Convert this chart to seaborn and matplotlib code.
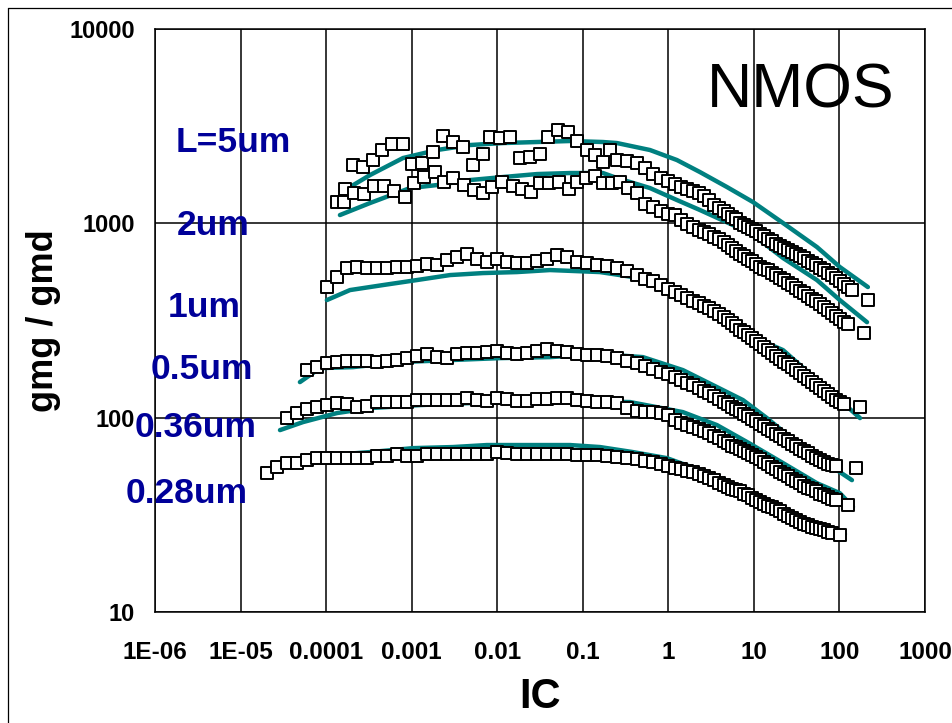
import matplotlib
matplotlib.use("Agg")
import matplotlib.pyplot as plt
import seaborn as sns
from matplotlib.ticker import FixedLocator, FixedFormatter, LogLocator, NullFormatter
from matplotlib.lines import Line2D

# ---------------- data ----------------
IC_GRID = [2.04e-5, 2.67e-5, 3.49e-5, 4.57e-5, 5.98e-5, 7.82e-5, 1.02e-4, 1.34e-4, 1.75e-4, 2.30e-4,
           3.00e-4, 3.94e-4, 5.15e-4, 6.73e-4, 8.81e-4, 1.15e-3, 1.51e-3, 1.98e-3, 2.59e-3, 3.39e-3,
           4.43e-3, 5.80e-3, 7.59e-3, 9.93e-3, 1.30e-2, 1.70e-2, 2.23e-2, 2.92e-2, 3.82e-2, 4.99e-2,
           6.54e-2, 8.56e-2, 0.112, 0.147, 0.192, 0.251, 0.329, 0.430, 0.533, 0.661,
           0.820, 0.991, 1.20, 1.41, 1.65, 1.94, 2.28, 2.61, 2.99, 3.41,
           3.91, 4.47, 4.98, 5.54, 6.17, 6.87, 7.66, 8.53, 9.49, 10.6,
           11.8, 13.1, 14.6, 16.3, 18.1, 20.2, 22.5, 25.0, 27.9, 31.0,
           34.6, 38.5, 42.9, 47.7, 53.1, 59.2, 65.9, 73.4, 81.7, 91.0,
           101, 113, 126, 140]

# measured points (open squares)
ic_028 = IC_GRID[0:79] + [101]
gm_028 = [51.8, 55.7, 58.3, 58.3, 60.5, 61.9, 61.9, 61.9, 61.9, 61.9,
          61.9, 63.4, 63.4, 65.0, 63.4, 63.4, 65.0, 65.0, 65.0, 65.0,
          65.0, 65.0, 65.0, 66.5, 65.7, 65.0, 65.0, 65.0, 65.0, 65.0,
          65.0, 64.2, 64.2, 64.2, 63.4, 62.7, 61.9, 61.2, 60.1, 59.4,
          58.0, 56.7, 55.4, 54.3, 53.4, 52.5, 51.2, 50.0, 49.2, 47.7,
          46.3, 45.0, 44.0, 43.2, 42.4, 41.7, 40.7, 39.8, 38.6, 37.7,
          37.0, 36.1, 35.3, 34.5, 33.7, 32.9, 32.1, 31.1, 30.4, 29.7,
          29.2, 28.5, 28.0, 27.5, 27.0, 26.7, 26.4, 25.9, 25.6,
          25.0]

ic_036 = IC_GRID[2:80] + [126]
gm_036 = [99.5, 105.6, 110.7, 113.3, 116.1, 118.9, 117.5, 113.3,
          114.7, 120.3, 120.3, 120.3, 120.3, 123.2, 123.2, 123.2, 123.2, 123.2,
          126.1, 123.2, 121.7, 126.1, 124.6, 121.7, 121.7, 124.6, 124.6, 126.1,
          126.1, 123.2, 121.7, 120.3, 120.3, 118.9, 112.0, 108.1, 106.8, 106.8,
          105.6, 103.1, 97.2, 93.8, 91.6, 89.5, 87.8, 85.8, 83.4, 80.9,
          78.5, 75.8, 74.1, 71.9, 70.6, 68.9, 67.3, 66.1, 64.6, 62.7,
          61.2, 59.4, 57.7, 56.0, 54.3, 52.7, 51.6, 50.0, 48.6, 47.4,
          46.1, 44.7, 43.7, 42.7, 41.7, 40.7, 39.8, 39.1, 38.2, 37.5,
          35.5]

ic_05 = IC_GRID[4:80] + [156]
gm_05 = [175.7, 182.2, 190.8, 193.1, 195.5, 195.5,
         195.5, 193.1, 195.5, 197.8, 202.5, 207.4, 212.4, 204.9, 202.5, 212.4,
         214.9, 214.9, 217.5, 220.1, 214.9, 212.4, 214.9, 220.1, 225.4, 220.1,
         217.5, 212.4, 209.9, 209.9, 207.4, 202.5, 195.5, 190.8, 184.2, 177.8,
         171.6, 167.6, 161.8, 156.1, 150.6, 147.1, 142.0, 137.9, 134.0, 129.2,
         124.6, 121.0, 117.5, 114.0, 110.7, 108.1, 104.9, 101.9, 98.9, 96.1,
         93.3, 90.5, 87.8, 85.3, 82.8, 80.4, 77.6, 75.8, 73.6, 71.4,
         69.3, 67.3, 65.7, 63.8, 62.3, 60.8, 59.4, 58.0, 57.0, 56.3,
         55.0]

ic_1 = IC_GRID[6:82] + [174]
gm_1 = [470, 529, 588.7, 595.7,
        588.7, 588.7, 588.7, 595.7, 595.7, 602.8, 617.3, 610.0, 647.2, 670.7,
        694.9, 654.9, 632.1, 654.9, 632.1, 624.7, 624.7, 639.6, 654.9, 686.8,
        670.7, 632.1, 624.7, 610.0, 602.8, 588.7, 568.1, 541.8, 516.8, 502.0,
        481.2, 458.9, 442.9, 427.4, 412.4, 400.4, 388.7, 377.4, 366.4, 353.6,
        341.2, 329.3, 317.8, 308.6, 296.0, 284.0, 275.7, 266.0, 256.7, 247.7,
        239.1, 230.7, 222.7, 214.9, 207.4, 200.1, 194.3, 188.6, 182.2, 175.7,
        169.6, 163.7, 158.0, 152.5, 147.1, 142.0, 137.1, 132.3, 127.6, 123.9,
        120.3, 117.5,
        113.3]

ic_2_low = [1.34e-4, 1.62e-4, 1.66e-4, 2.12e-4, 2.77e-4, 3.63e-4, 4.75e-4, 6.21e-4, 8.35e-4, 1.06e-3,
            1.39e-3, 1.87e-3, 2.39e-3, 3.04e-3, 4.09e-3, 5.35e-3, 6.82e-3, 8.69e-3, 1.14e-2, 1.53e-2,
            1.95e-2, 2.48e-2, 3.16e-2, 4.03e-2, 5.27e-2, 6.90e-2, 8.56e-2, 0.109, 0.139, 0.172,
            0.219, 0.272, 0.337]
ic_2 = ic_2_low + IC_GRID[37:83] + [194]
gm_2 = [1287, 1287, 1502, 1431, 1415, 1555, 1555, 1467, 1365, 1611,
        1731, 1836, 1631, 1710, 1574, 1484, 1431, 1537, 1631, 1555,
        1502, 1449, 1611, 1611, 1631, 1502, 1631, 1710, 1751, 1611,
        1611, 1631, 1519,
        1431, 1257, 1213, 1157, 1123, 1103, 1040, 997, 963, 929,
        902, 881, 855, 835, 801, 773, 746, 720, 695, 679,
        659, 640, 617, 599, 585, 572, 558, 542, 526, 511,
        496, 481, 467, 451, 438, 422, 410, 398, 384, 371,
        358, 345, 333, 322, 312, 303,
        272]

ic_5_low = [2.06e-4, 2.70e-4, 3.53e-4, 4.50e-4, 5.89e-4, 7.92e-4, 1.01e-3, 1.32e-3, 1.78e-3, 2.32e-3,
            3.04e-3, 3.98e-3, 5.21e-3, 6.82e-3, 8.23e-3, 1.08e-2, 1.41e-2, 1.85e-2, 2.41e-2, 3.16e-2,
            3.92e-2, 5.13e-2, 6.71e-2, 8.56e-2, 0.112, 0.139, 0.172, 0.208, 0.251, 0.329,
            0.430, 0.533]
ic_5 = ic_5_low + IC_GRID[39:84] + [215]
gm_5 = [1995, 1948, 2117, 2384, 2560, 2560, 2019, 2043, 2328, 2814,
        2621, 2470, 1995, 2273, 2781, 2749, 2781, 2168, 2194, 2273,
        2781, 3021, 2950, 2652, 2384, 2246, 2067, 2384, 2117, 2092,
        2043, 1925,
        1793, 1710, 1650, 1593, 1537, 1502, 1467, 1431, 1382, 1318,
        1242, 1199, 1157, 1116, 1084, 1052, 1003, 986, 957, 935,
        913, 886, 860, 835, 811, 787, 769, 750, 733, 716,
        699, 683, 663, 643, 625, 610, 589, 572, 555, 539,
        523, 505, 487, 470, 453,
        403]

# model curves (teal lines)
lic_028 = [2.53e-5, 4.94e-5, 1.11e-4, 3.26e-4, 1.04e-3, 3.04e-3, 7.59e-3, 1.85e-2, 7.09e-2, 0.159,
           0.386, 0.964, 2.34, 5.54, 14.2, 34.6, 84.0, 116]
lgm_028 = [53.7, 60.5, 64.2, 66.5, 69.7, 70.6, 72.3, 72.3, 72.3, 70.6,
           66.5, 61.9, 53.7, 46.0, 37.7, 30.8, 26.4, 25.2]
lic_036 = [2.89e-5, 5.37e-5, 1.34e-4, 3.26e-4, 1.25e-3, 4.81e-3, 2.41e-2, 0.121, 0.357, 1.48,
           3.70, 8.75, 21.9, 54.6, 101, 144]
lgm_036 = [86.3, 94.9, 105.6, 112.0, 116.1, 118.9, 120.3, 121.7, 120.3, 106.8,
           91.6, 74.0, 58.4, 46.0, 40.9, 34.7]
lic_05 = [4.94e-5, 8.48e-5, 2.06e-4, 7.30e-4, 2.81e-3, 1.08e-2, 4.14e-2, 0.159, 0.505, 1.48,
          3.70, 7.45, 14.2, 26.4, 54.6, 93.5, 140]
lgm_05 = [152.4, 179.9, 182.0, 193.2, 197.8, 202.5, 204.9, 212.4, 204.9, 175.7,
          143.7, 123.2, 99.5, 79.5, 62.7, 53.7, 47.7]
lic_1 = [1.02e-4, 1.90e-4, 4.62e-4, 1.15e-3, 2.81e-3, 6.82e-3, 1.70e-2, 4.14e-2, 0.159, 0.386,
         0.964, 2.34, 5.54, 14.2, 21.9, 54.6, 101, 174]
lgm_1 = [402.8, 453.5, 481.2, 510.6, 541.8, 554.7, 561.3, 574.9, 561.3, 529.1,
         470.0, 402.8, 317.8, 241.9, 222.7, 156.1, 123.2, 99.5]
lic_2 = [1.45e-4, 3.26e-4, 9.56e-4, 1.98e-3, 4.81e-3, 1.17e-2, 2.92e-2, 7.09e-2, 0.172, 0.251,
         0.610, 1.26, 2.34, 5.69, 10.9, 21.9, 54.6, 101, 210]
lgm_2 = [1103, 1272, 1519, 1574, 1670, 1731, 1793, 1815, 1815, 1710,
         1519, 1318, 1171, 980, 840, 663, 510.6, 402.8, 310]
lic_5 = [1.90e-4, 3.26e-4, 7.92e-4, 1.98e-3, 4.81e-3, 1.17e-2, 2.92e-2, 7.09e-2, 0.172, 0.251,
         0.610, 1.26, 2.34, 4.85, 9.75, 21.9, 54.6, 101, 215]
lgm_5 = [1537, 1772, 2168, 2384, 2529, 2589, 2621, 2652, 2621, 2589,
         2384, 2117, 1836, 1537, 1287, 1004, 755, 596, 470]

SERIES_NAMES = ["L=5um", "2um", "1um", "0.5um", "0.36um", "0.28um"]
X_TICKS = [1e-6, 1e-5, 1e-4, 1e-3, 1e-2, 1e-1, 1, 10, 100, 1000]
X_TICK_LABELS = ["1E-06", "1E-05", "0.0001", "0.001", "0.01", "0.1", "1", "10", "100", "1000"]
Y_TICKS = [10, 100, 1000, 10000]
Y_TICK_LABELS = ["10", "100", "1000", "10000"]

# ---------------- style ----------------
sns.set_theme(style="white")
plt.rcParams["font.family"] = ["Liberation Sans", "DejaVu Sans"]
TEAL = "#008080"
BLUE = "#000099"

fig = plt.figure(figsize=(9.53, 7.23), dpi=100)
ax = fig.add_axes([155 / 953, 111 / 723, 770 / 953, 583 / 723])
ax.set_xscale("log")
ax.set_yscale("log")

lines = [(lic_5, lgm_5), (lic_2, lgm_2), (lic_1, lgm_1), (lic_05, lgm_05), (lic_036, lgm_036), (lic_028, lgm_028)]
for lx, ly in lines:
    sns.lineplot(x=lx, y=ly, ax=ax, sort=False, estimator=None, color=TEAL, linewidth=3.2, zorder=2)

pts = [(ic_5, gm_5), (ic_2, gm_2), (ic_1, gm_1), (ic_05, gm_05), (ic_036, gm_036), (ic_028, gm_028)]
for px_, py_ in pts:
    sns.scatterplot(x=px_, y=py_, ax=ax, marker="s", s=80, color="white", edgecolor="black",
                    linewidth=1.4, zorder=3, legend=False)

ax.set_xlim(1e-6, 1e3)
ax.set_ylim(10, 1e4)

ax.xaxis.set_major_locator(FixedLocator(X_TICKS))
ax.xaxis.set_major_formatter(FixedFormatter(X_TICK_LABELS))
ax.yaxis.set_major_locator(FixedLocator(Y_TICKS))
ax.yaxis.set_major_formatter(FixedFormatter(Y_TICK_LABELS))
ax.xaxis.set_minor_locator(LogLocator(base=10, subs=range(2, 10), numticks=20))
ax.yaxis.set_minor_locator(LogLocator(base=10, subs=range(2, 10), numticks=20))
ax.xaxis.set_minor_formatter(NullFormatter())
ax.yaxis.set_minor_formatter(NullFormatter())

ax.tick_params(axis="both", which="both", direction="in", color="black", width=1.0)
ax.tick_params(axis="both", which="major", length=4)
ax.tick_params(axis="both", which="minor", length=4)
ax.tick_params(axis="x", which="major", pad=21, labelsize=17.5)
ax.tick_params(axis="y", which="major", pad=14.5, labelsize=17)
for lab in ax.get_xticklabels() + ax.get_yticklabels():
    lab.set_fontweight("bold")
    lab.set_color("black")

ax.set_axisbelow(True)
ax.grid(True, which="major", color="black", linewidth=1.1)
ax.grid(False, which="minor")
for sp in ax.spines.values():
    sp.set_color("black")
    sp.set_linewidth(1.1)
    sp.set_visible(True)

ax.set_xlabel("IC", fontsize=30, fontweight="bold", labelpad=9, color="black")
ax.set_ylabel("gmg / gmd", fontsize=26, fontweight="bold", labelpad=6, color="black")

ax.text(0.717, 0.8645, "NMOS", transform=ax.transAxes, fontsize=45, ha="left", va="baseline",
        color="black", zorder=0.3)

label_pos = [(0.0273, 0.789), (0.0286, 0.6467), (0.0169, 0.506), (-0.0052, 0.3997), (-0.026, 0.3002), (-0.0377, 0.187)]
for name, (tx, ty) in zip(SERIES_NAMES, label_pos):
    ax.text(tx, ty, name, transform=ax.transAxes, fontsize=25.5, fontweight="bold", color=BLUE,
            ha="left", va="baseline", zorder=6, clip_on=False)

# figure frame (left and top edges visible in the reference)
fig.add_artist(Line2D([8.5 / 953, 8.5 / 953], [0, 1 - 7.5 / 723], color="black", linewidth=0.9))
fig.add_artist(Line2D([8.5 / 953, 1.0], [1 - 7.5 / 723, 1 - 7.5 / 723], color="black", linewidth=0.9))

fig.savefig("out.png", dpi=100, facecolor="white")
